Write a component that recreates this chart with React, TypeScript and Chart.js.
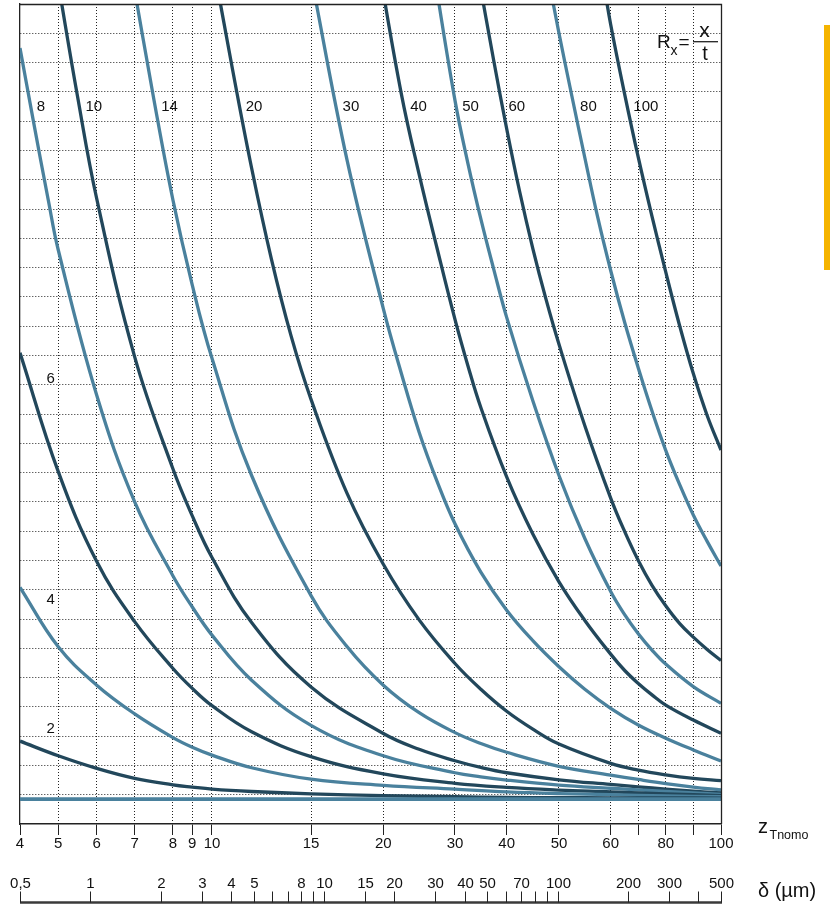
import React, { useEffect, useRef } from 'react';
import { Chart, registerables } from 'chart.js';

Chart.register(...registerables);

const FONT = "'Liberation Sans', Arial, Helvetica, sans-serif";
const DARK = '#22475b';
const LIGHT = '#4a819d';

// z_Tnomo axis ticks and their matching delta (µm) values on the lower scale
const zTicks = [4, 5, 6, 7, 8, 9, 10, 15, 20, 30, 40, 50, 60, 70, 80, 90, 100];
const zTickLabels = ['4', '5', '6', '7', '8', '9', '10', '15', '20', '30', '40', '50', '60', '', '80', '', '100'];
const zTickDelta = [0.5, 0.729, 1.065, 1.548, 2.258, 2.731, 3.316, 8.8, 17.94, 36.35, 60.5, 101.3, 168.6, 221.3, 290.0, 380.6, 500];

// delta (µm) axis ticks
const deltaTicks = [0.5, 1, 2, 3, 4, 5, 6, 7, 8, 9, 10, 15, 20, 30, 40, 50, 60, 70, 80, 90, 100, 200, 300, 400, 500];
const deltaTickLabels = ['0,5', '1', '2', '3', '4', '5', '', '', '8', '', '10', '15', '20', '30', '40', '50', '', '70', '', '', '100', '200', '300', '', '500'];

// y grid (no labels)
const yGrid = Array.from({ length: 29 }, (_, i) => i);

// curves Rx = x/t : [z_Tnomo, y]
const rx2 = [[4, 2.83], [5, 2.33], [6, 1.9], [7, 1.56], [8, 1.34], [9, 1.26], [10, 1.19], [12, 1.11], [15, 1.03], [20, 0.97], [30, 0.93], [40, 0.91], [50, 0.9], [60, 0.895], [80, 0.89], [100, 0.885]];
const rx4 = [[4, 8.08], [5, 6.05], [6, 4.74], [7, 3.76], [8, 2.95], [9, 2.62], [10, 2.35], [12, 1.92], [15, 1.53], [20, 1.32], [30, 1.19], [40, 1.1], [50, 1.04], [60, 1.0], [80, 0.96], [100, 0.93]];
const rx6 = [[4, 16.09], [5, 12.03], [6, 8.96], [7, 6.91], [8, 5.31], [9, 4.63], [10, 4.04], [12, 3.15], [15, 2.3], [20, 1.71], [30, 1.39], [40, 1.25], [50, 1.16], [60, 1.1], [80, 1.03], [100, 0.97]];
const rx8 = [[4, 26.5], [4.35, 24.0], [4.74, 21.3], [5, 19.6], [6, 14.64], [7, 11.0], [8, 8.47], [9, 7.41], [10, 6.45], [12, 4.91], [15, 3.37], [20, 2.33], [30, 1.75], [35, 1.61], [40, 1.5], [50, 1.33], [60, 1.22], [80, 1.11], [100, 1.01]];
const rx10 = [[5, 28.7], [5.5, 24.85], [6, 21.35], [7, 15.95], [8, 12.12], [9, 10.52], [10, 9.1], [12, 6.88], [15, 4.68], [20, 3.09], [25, 2.55], [30, 2.16], [35, 1.93], [40, 1.75], [50, 1.51], [60, 1.35], [70, 1.27], [80, 1.19], [90, 1.12], [100, 1.06]];
const rx14 = [[6.9, 29.2], [7.5, 24.75], [8, 21.3], [9, 18.4], [10, 15.9], [12, 11.9], [15, 7.8], [17.5, 6.05], [20, 4.74], [25, 3.8], [30, 3.12], [35, 2.75], [40, 2.45], [50, 1.97], [60, 1.67], [70, 1.52], [80, 1.38], [90, 1.26], [100, 1.16]];
const rx20 = [[10, 29.6], [11, 25.9], [12, 22.4], [13, 19.29], [14, 16.65], [15, 14.5], [17.5, 11.28], [20, 8.87], [25, 6.97], [30, 5.48], [35, 4.6], [40, 3.85], [45, 3.24], [50, 2.73], [60, 2.07], [70, 1.84], [80, 1.68], [90, 1.56], [100, 1.48]];
const rx30 = [[15, 28.95], [17.5, 22.65], [20, 17.6], [22.5, 15.4], [25, 13.38], [27.5, 11.7], [30, 10.25], [35, 8.6], [40, 7.3], [45, 6.26], [50, 5.37], [55, 4.6], [60, 3.95], [70, 3.38], [80, 2.93], [90, 2.53], [100, 2.15]];
const rx40 = [[19.5, 29.8], [22.5, 24.95], [25, 22.18], [27.5, 19.66], [30, 17.23], [32.5, 15.65], [35, 14.22], [40, 11.85], [45, 9.9], [50, 8.27], [55, 6.95], [60, 5.8], [65, 5.25], [70, 4.8], [75, 4.41], [80, 4.06], [90, 3.55], [100, 3.1]];
const rx50 = [[27, 29.16], [30, 24.71], [32.5, 22.56], [35, 20.66], [37.5, 18.94], [40, 17.3], [45, 14.45], [50, 11.9], [55, 9.75], [60, 7.94], [65, 7.16], [70, 6.5], [75, 5.94], [80, 5.46], [90, 4.69], [100, 4.12]];
const rx60 = [[34.5, 29.0], [37.5, 26.06], [40, 23.74], [42.5, 21.58], [45, 19.65], [47.5, 17.93], [50, 16.38], [55, 13.6], [60, 11.13], [65, 10.0], [70, 9.0], [75, 8.15], [80, 7.45], [85, 6.85], [90, 6.38], [95, 5.96], [100, 5.58]];
const rx80 = [[48, 28.86], [50, 27.0], [52.5, 24.85], [55, 22.75], [57.5, 20.71], [60, 18.9], [65, 17.15], [70, 15.57], [75, 14.1], [80, 12.76], [85, 11.6], [90, 10.55], [95, 9.65], [100, 8.81]];
const rx100 = [[58.5, 28.85], [60, 27.3], [65, 24.95], [70, 22.76], [75, 20.75], [80, 18.85], [85, 17.03], [90, 15.38], [95, 13.95], [100, 12.77]];
const baseline = [[4, 0.85], [100, 0.85]];

const curveSeries = [
  { rx: '2', pts: rx2, color: DARK, top: false },
  { rx: '4', pts: rx4, color: LIGHT, top: false },
  { rx: '6', pts: rx6, color: DARK, top: false },
  { rx: '8', pts: rx8, color: LIGHT, top: true },
  { rx: '10', pts: rx10, color: DARK, top: true },
  { rx: '14', pts: rx14, color: LIGHT, top: true },
  { rx: '20', pts: rx20, color: DARK, top: true },
  { rx: '30', pts: rx30, color: LIGHT, top: true },
  { rx: '40', pts: rx40, color: DARK, top: true },
  { rx: '50', pts: rx50, color: LIGHT, top: true },
  { rx: '60', pts: rx60, color: DARK, top: true },
  { rx: '80', pts: rx80, color: LIGHT, top: true },
  { rx: '100', pts: rx100, color: DARK, top: true },
];

const topLabelLevel = 24.5;
const sideLabels = [
  { t: '6', z: 4.8, u: 15.2 },
  { t: '4', z: 4.8, u: 7.66 },
  { t: '2', z: 4.8, u: 3.25 },
];

function zToDelta(z: number): number {
  let i = 0;
  while (i < zTicks.length - 2 && z > zTicks[i + 1]) i++;
  const t = (z - zTicks[i]) / (zTicks[i + 1] - zTicks[i]);
  const l0 = Math.log10(zTickDelta[i]);
  const l1 = Math.log10(zTickDelta[i + 1]);
  return Math.pow(10, l0 + t * (l1 - l0));
}

function crossX(pts: number[][], level: number, px: (z: number) => number, py: (u: number) => number): number | null {
  for (let i = 0; i < pts.length - 1; i++) {
    const [z0, u0] = pts[i];
    const [z1, u1] = pts[i + 1];
    if ((u0 - level) * (u1 - level) <= 0) {
      const x0 = px(z0), x1 = px(z1), y0 = py(u0), y1 = py(u1), yl = py(level);
      const t = (yl - y0) / (y1 - y0);
      return x0 + t * (x1 - x0);
    }
  }
  return null;
}

const nomoPlugin = {
  id: 'nomo',
  afterDraw(chart: any) {
    const { ctx, chartArea: a } = chart;
    const xs = chart.scales.x;
    const ys = chart.scales.y;
    const px = (z: number) => xs.getPixelForValue(zToDelta(z));
    const py = (u: number) => ys.getPixelForValue(u);
    ctx.save();
    ctx.setLineDash([]);
    // frame: top and right
    ctx.strokeStyle = '#222';
    ctx.lineWidth = 1.3;
    ctx.beginPath();
    ctx.moveTo(a.left, Math.round(a.top) + 0.5);
    ctx.lineTo(Math.round(a.right) + 0.5, Math.round(a.top) + 0.5);
    ctx.lineTo(Math.round(a.right) + 0.5, a.bottom);
    ctx.stroke();

    // curve labels
    ctx.fillStyle = '#111';
    ctx.font = `15px ${FONT}`;
    ctx.textBaseline = 'middle';
    ctx.textAlign = 'left';
    const yl = py(topLabelLevel);
    curveSeries.forEach((c) => {
      if (!c.top) return;
      const x = crossX(c.pts, topLabelLevel, px, py);
      if (x !== null) ctx.fillText(c.rx, x + 6, yl);
    });
    ctx.textAlign = 'center';
    sideLabels.forEach((l) => ctx.fillText(l.t, px(l.z), py(l.u)));

    // Rx = x / t
    ctx.textBaseline = 'alphabetic';
    ctx.textAlign = 'left';
    const rx0 = a.right - 64;
    const by = a.top + 43.5;
    ctx.font = `19px ${FONT}`;
    ctx.fillText('R', rx0, by);
    ctx.font = `14px ${FONT}`;
    ctx.fillText('x', rx0 + 13.5, by + 7.5);
    ctx.font = `19px ${FONT}`;
    ctx.fillText('=', rx0 + 21.5, by);
    ctx.lineWidth = 1.3;
    ctx.beginPath();
    ctx.moveTo(rx0 + 36, a.top + 37.7);
    ctx.lineTo(rx0 + 61, a.top + 37.7);
    ctx.stroke();
    ctx.textAlign = 'center';
    ctx.font = `21px ${FONT}`;
    ctx.fillText('x', rx0 + 47.5, a.top + 32.5);
    ctx.font = `20px ${FONT}`;
    ctx.fillText('t', rx0 + 48, a.top + 56);

    // z_Tnomo axis title
    ctx.textAlign = 'left';
    ctx.font = `20px ${FONT}`;
    ctx.fillText('z', a.right + 37, a.bottom + 9.3);
    ctx.font = `12.5px ${FONT}`;
    ctx.fillText('Tnomo', a.right + 48.5, a.bottom + 15.3);

    // delta axis (µm)
    const lineY = a.bottom + 78.5;
    ctx.strokeStyle = '#3a3a3a';
    ctx.lineWidth = 2.4;
    ctx.beginPath();
    ctx.moveTo(xs.getPixelForValue(deltaTicks[0]), lineY);
    ctx.lineTo(xs.getPixelForValue(deltaTicks[deltaTicks.length - 1]) + 1, lineY);
    ctx.stroke();
    ctx.strokeStyle = '#222';
    ctx.lineWidth = 1;
    ctx.font = `15px ${FONT}`;
    ctx.textAlign = 'center';
    ctx.textBaseline = 'alphabetic';
    deltaTicks.forEach((d, i) => {
      const x = Math.round(xs.getPixelForValue(d)) + 0.5;
      ctx.beginPath();
      ctx.moveTo(x, a.bottom + 67.5);
      ctx.lineTo(x, lineY);
      ctx.stroke();
      if (deltaTickLabels[i]) ctx.fillText(deltaTickLabels[i], x, a.bottom + 64);
    });
    ctx.textAlign = 'left';
    ctx.font = `20px ${FONT}`;
    ctx.fillText('δ (µm)', a.right + 37, a.bottom + 72.7);
    ctx.restore();
  },
};

export default function App() {
  const ref = useRef<HTMLCanvasElement>(null);
  useEffect(() => {
    const canvas = ref.current;
    if (!canvas) return;
    const lineSets = curveSeries.map((c) => ({
      label: 'Rx ' + c.rx,
      data: c.pts.map(([z, u]) => ({ x: zToDelta(z), y: u })),
      borderColor: c.color,
      backgroundColor: c.color,
      borderWidth: 3.3,
      pointRadius: 0,
      fill: false,
      tension: 0.4,
      clip: 0,
    }));
    const baseSet = {
      label: 'baseline',
      data: baseline.map(([z, u]) => ({ x: zToDelta(z), y: u })),
      borderColor: LIGHT,
      backgroundColor: LIGHT,
      borderWidth: 3.6,
      pointRadius: 0,
      fill: false,
      clip: 0,
    };
    const chart = new Chart(canvas, {
      type: 'line',
      data: { datasets: [baseSet, ...lineSets] as any },
      plugins: [nomoPlugin],
      options: {
        responsive: false,
        animation: false,
        devicePixelRatio: 1,
        events: [],
        layout: { padding: { left: 20, right: 109, top: 4, bottom: 0 } },
        plugins: { legend: { display: false }, tooltip: { enabled: false } },
        scales: {
          x: {
            type: 'logarithmic',
            position: 'bottom',
            min: 0.5,
            max: 500,
            bounds: 'data',
            afterBuildTicks: (axis: any) => {
              axis.ticks = zTicks.map((z) => ({ value: zToDelta(z) }));
            },
            afterFit: (axis: any) => {
              axis.height = 80;
            },
            ticks: {
              autoSkip: false,
              maxRotation: 0,
              minRotation: 0,
              padding: 0,
              color: '#111',
              font: { family: FONT, size: 15 },
              callback: (_v: any, i: number) => zTickLabels[i],
            },
            grid: {
              color: (c: any) => (c.index === 0 || c.index === zTicks.length - 1 ? 'rgba(0,0,0,0)' : '#222'),
              lineWidth: 1,
              tickLength: 11,
              tickColor: '#222',
              tickWidth: 1,
              tickBorderDash: [],
            },
            border: { display: true, color: '#222', width: 1.5, dash: [1, 2] },
          },
          y: {
            type: 'linear',
            min: 0,
            max: 28,
            afterBuildTicks: (axis: any) => {
              axis.ticks = yGrid.map((v) => ({ value: v }));
            },
            ticks: { display: false },
            grid: {
              drawTicks: false,
              color: (c: any) => (c.index === 0 || c.index === yGrid.length - 1 ? 'rgba(0,0,0,0)' : '#222'),
              lineWidth: 1,
            },
            border: { display: true, color: '#222', width: 1.3, dash: [1, 2] },
          },
        },
      } as any,
    });
    return () => chart.destroy();
  }, []);

  return (
    <div style={{ position: 'fixed', left: 0, top: 0, width: 830, height: 904, background: '#fff', overflow: 'hidden' }}>
      <canvas ref={ref} width={830} height={904} style={{ display: 'block', width: 830, height: 904 }} />
      <div style={{ position: 'absolute', left: 824, top: 25, width: 6, height: 245, background: '#F5B400' }} />
    </div>
  );
}
